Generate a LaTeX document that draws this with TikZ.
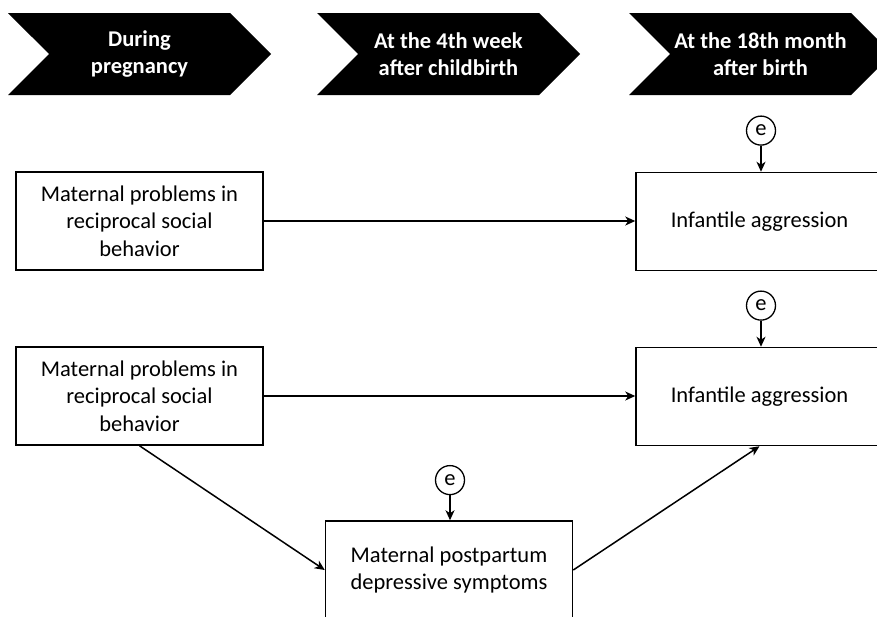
\documentclass[tikz,border=0pt]{standalone}
\usepackage{fontspec}
\setmainfont{Carlito}
\usepackage{tikz}
\usetikzlibrary{shapes.symbols, arrows.meta}
\newcommand{\bigtxt}{\fontsize{22.5}{27.5}\selectfont}
\tikzstyle{phase} = [signal, signal from=west, signal to=east, signal pointer angle=90, minimum width=263pt, minimum height=82pt, inner sep=0pt, text centered, fill=black, text=white, font=\bigtxt\bfseries]
\tikzstyle{box} = [rectangle, minimum width=247pt, minimum height=98pt, text centered, draw=black, line width=1.5pt]
\tikzstyle{err} = [circle, minimum size=29pt, inner sep=0pt, draw=black, line width=1.3pt]
\tikzstyle{arrow} = [line width=1.5pt,-{Stealth[length=10pt,width=9pt,inset=3pt]}]
\usetikzlibrary{positioning}
\tikzset{every node/.style={font=\bigtxt, align=center}}

\begin{document}
\begin{tikzpicture}[x=1pt,y=-1pt]
\useasboundingbox (0,0) rectangle (877,616);
\node (ph1) [phase] at (139.5,54) {During\\pregnancy};
\node (ph2) [phase] at (448.5,54) {At the 4th week\\after childbirth};
\node (ph3) [phase] at (760.5,54) {At the 18th month\\after birth};

\node (recip1) [box] at (139.5,221) {Maternal problems in\\reciprocal social\\behavior};
\node (aggr1) [box] at (759.5,221.5) {Infantile aggression};
\node (recip2) [box] at (139.5,396) {Maternal problems in\\reciprocal social\\behavior};
\node (aggr2) [box] at (759.5,396.5) {Infantile aggression};
\node (depr) [box] at (449,570) {Maternal postpartum\\depressive symptoms};

\node (e1) [err, above=26pt of aggr1, xshift=1.5pt] {e};
\node (e2) [err, above=26pt of aggr2, xshift=1.5pt] {e};
\node (e3) [err, above=25pt of depr, xshift=1pt] {e};

\draw [arrow] (recip1.east) -- (aggr1.west |- recip1.east);
\draw [arrow] (recip2.east) -- (aggr2.west |- recip2.east);
\draw [arrow] (recip2.south) -- (depr.west);
\draw [arrow] (depr.east) -- (aggr2.south);
\draw [arrow] (e1) -- (e1 |- aggr1.north);
\draw [arrow] (e2) -- (e2 |- aggr2.north);
\draw [arrow] (e3) -- (e3 |- depr.north);
\end{tikzpicture}
\end{document}
